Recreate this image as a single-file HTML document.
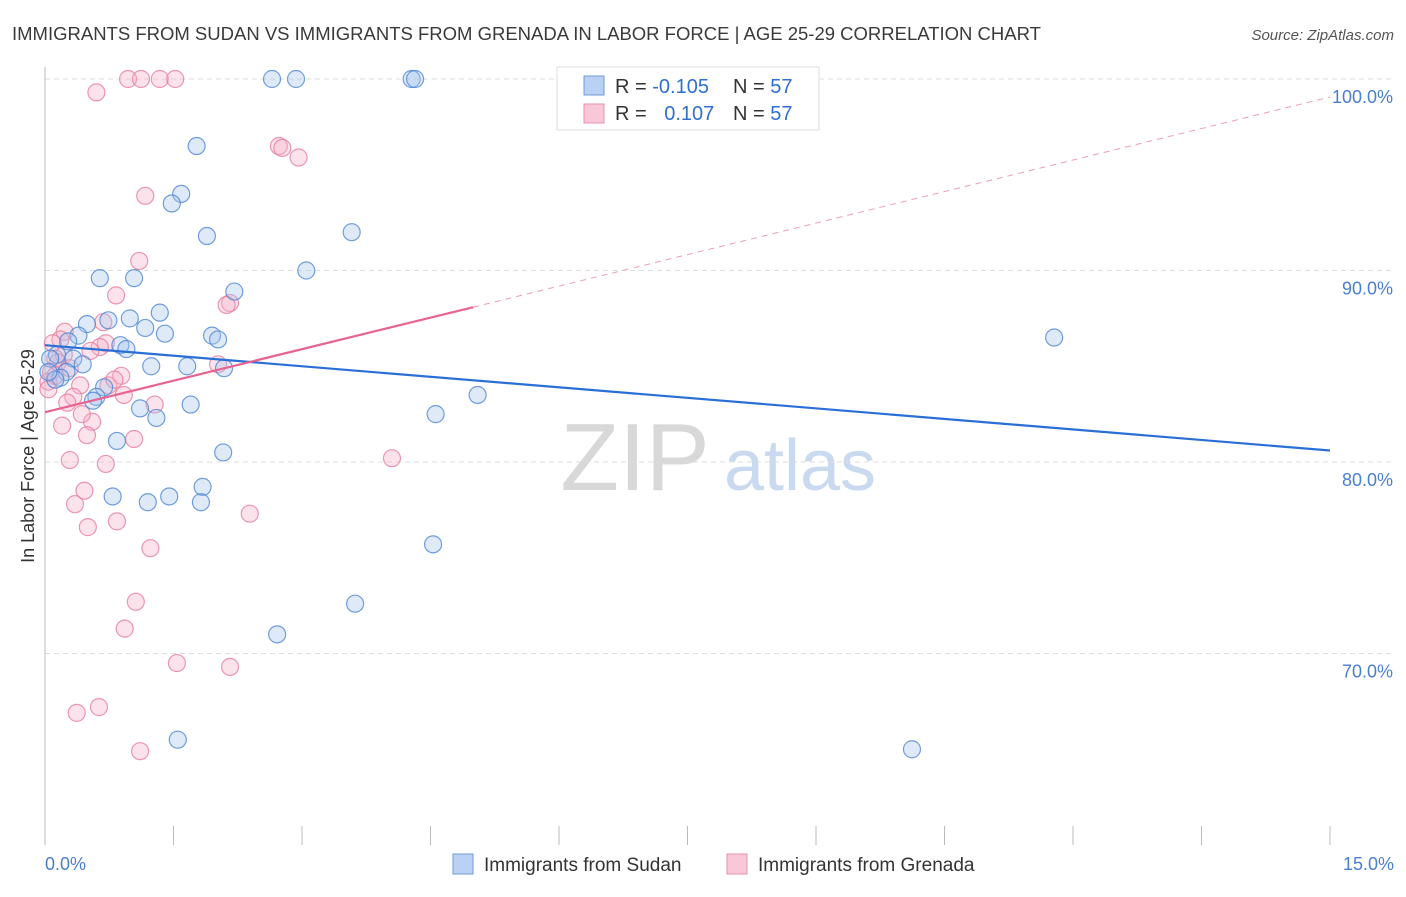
<!DOCTYPE html>
<html><head><meta charset="utf-8"><style>
body{margin:0;background:#fff;font-family:"Liberation Sans",sans-serif}
svg text{font-family:"Liberation Sans",sans-serif}
</style></head><body>
<svg id="chart" width="1406" height="892" viewBox="0 0 1406 892" xmlns="http://www.w3.org/2000/svg">
<text x="12" y="40" font-size="18.5" fill="#3a3a3a">IMMIGRANTS FROM SUDAN VS IMMIGRANTS FROM GRENADA IN LABOR FORCE | AGE 25-29 CORRELATION CHART</text>
<text x="1394" y="40" font-size="15" fill="#555" text-anchor="end" font-style="italic">Source: ZipAtlas.com</text>
<g>
<text x="635" y="490" font-size="96" fill="#d8d8d8" text-anchor="middle" font-family="Liberation Serif">ZIP</text>
<text x="800" y="490" font-size="72" fill="#c9daf0" text-anchor="middle">atlas</text>
</g>
<g id="grid"></g>
<g id="axes"></g>
<g id="marks"></g>
<g id="trends"></g>
<g>
<rect x="557" y="67" width="262" height="63" fill="#fff" stroke="#ddd"/>
<rect x="584" y="76" width="20" height="19" fill="#b9d2f3" stroke="#6f9bd8"/>
<rect x="584" y="104" width="20" height="19" fill="#f9c8d8" stroke="#e58fac"/>
<text x="615" y="93" font-size="20" fill="#333">R = <tspan fill="#2f6fd1">-0.105</tspan></text>
<text x="733" y="93" font-size="20" fill="#333">N = <tspan fill="#2f6fd1">57</tspan></text>
<text x="615" y="120" font-size="20" fill="#333">R = <tspan fill="#2f6fd1" dx="12">0.107</tspan></text>
<text x="733" y="120" font-size="20" fill="#333">N = <tspan fill="#2f6fd1">57</tspan></text>
</g>
<text transform="translate(34,456) rotate(-90)" font-size="18" fill="#333" text-anchor="middle">In Labor Force | Age 25-29</text>
<text x="45" y="870" font-size="18" fill="#4a7fd0">0.0%</text>
<text x="1394" y="870" font-size="18" fill="#4a7fd0" text-anchor="end">15.0%</text>
<g>
<rect x="453" y="854" width="20" height="20" fill="#b9d2f3" stroke="#6f9bd8"/>
<text x="484" y="871" font-size="19" fill="#333">Immigrants from Sudan</text>
<rect x="727" y="854" width="20" height="20" fill="#f9c8d8" stroke="#e58fac"/>
<text x="758" y="871" font-size="19" fill="#333">Immigrants from Grenada</text>
</g>
</svg>
<script>
const yTicks=[100,90,80,70];
const yTickLabels=["100.0%","90.0%","80.0%","70.0%"];
const xTicks=[0,1.5,3,4.5,6,7.5,9,10.5,12,13.5,15];
const sudanX=[2.65,2.93,4.28,4.32,1.77,1.59,1.48,1.89,3.58,3.05,0.64,1.04,2.21,1.34,0.99,0.74,0.49,1.17,1.40,0.39,1.95,2.02,0.88,0.95,0.27,0.14,0.33,0.44,1.24,1.66,2.09,0.25,0.18,0.69,0.60,0.56,1.11,1.70,1.30,4.56,5.05,0.84,2.08,1.84,0.79,1.45,1.20,1.82,4.53,3.62,2.71,1.55,10.12,11.78,0.06,0.12,0.04];
const sudanY=[100,100,100,100,96.5,94.0,93.5,91.8,92.0,90.0,89.6,89.6,88.9,87.8,87.5,87.4,87.2,87.0,86.7,86.6,86.6,86.4,86.1,85.9,86.3,85.6,85.4,85.1,85.0,85.0,84.9,84.7,84.4,83.9,83.4,83.2,82.8,83.0,82.3,82.5,83.5,81.1,80.5,78.7,78.2,78.2,77.9,77.9,75.7,72.6,71.0,65.5,65.0,86.5,85.4,84.3,84.7];
const grenadaX=[0.97,1.12,1.34,1.52,0.60,2.73,2.77,2.96,1.17,1.10,0.83,2.16,2.12,0.23,0.18,0.68,0.71,0.64,0.53,0.09,0.12,0.04,0.07,0.12,2.02,0.41,0.74,0.89,0.92,0.33,0.26,1.28,0.20,0.55,1.04,0.29,0.71,0.46,0.35,0.84,0.50,2.39,4.05,1.23,1.06,0.93,1.54,2.16,0.63,0.37,1.11,0.22,0.15,0.29,0.81,0.04,0.43,0.49];
const grenadaY=[100,100,100,100,99.3,96.5,96.4,95.9,93.9,90.5,88.7,88.3,88.2,86.8,86.4,87.3,86.2,86.0,85.8,86.2,85.4,84.2,84.7,84.5,85.1,84.0,84.0,84.5,83.5,83.4,83.1,83.0,81.9,82.1,81.2,80.1,79.9,78.5,77.8,76.9,76.6,77.3,80.2,75.5,72.7,71.3,69.5,69.3,67.2,66.9,64.9,85.6,85.2,84.9,84.3,83.8,82.5,81.4];
const sudanTrend=[86.1,80.6];
const grenadaTrend=[82.6,99.06];
const grenadaSolidEnd=5.0;

const NS="http://www.w3.org/2000/svg";
const X0=45,X1=1330,Y100=79,PX10=191.5;
function xs(v){return X0+(v/15)*(X1-X0);}
function ys(v){return Y100+(100-v)*PX10/10;}
function mk(t,a,p){const e=document.createElementNS(NS,t);for(const k in a)e.setAttribute(k,a[k]);p.appendChild(e);return e;}
const grid=document.getElementById('grid'),axes=document.getElementById('axes'),marks=document.getElementById('marks'),trends=document.getElementById('trends');
yTicks.forEach((t,i)=>{
  const l=mk('line',{x1:X0,x2:1394,y1:ys(t),y2:ys(t),stroke:'#ddd','stroke-dasharray':'5,4'},grid);
  
  
  const tx=mk('text',{x:1393,y:ys(t)+24,'font-size':18,fill:'#4a7fd0','text-anchor':'end'},axes);
  tx.textContent=yTickLabels[i];
  
  
});
const ya=mk('line',{x1:X0,x2:X0,y1:67,y2:845,stroke:'#bbb'},axes);


xTicks.forEach(t=>{
  const l=mk('line',{x1:xs(t),x2:xs(t),y1:826,y2:845,stroke:'#bbb'},axes);
  
  
});
function dots(X,Y,fill,stroke,name){
  X.forEach((x,i)=>{
    const c=mk('circle',{cx:xs(x),cy:ys(Y[i]),r:8.5,fill:fill,'fill-opacity':0.35,stroke:stroke,'stroke-width':1.2,'stroke-opacity':0.8},marks);
    
    
  });
}
dots(grenadaX,grenadaY,'#f5aec6','#e67e9f','grenada-point');
dots(sudanX,sudanY,'#a3c3ee','#4f86d4','sudan-point');
const bl=mk('line',{x1:xs(0),y1:ys(sudanTrend[0]),x2:xs(15),y2:ys(sudanTrend[1]),stroke:'#2a6fd6','stroke-width':2.2},trends);


const gEnd=grenadaTrend[0]+(grenadaTrend[1]-grenadaTrend[0])*grenadaSolidEnd/15;
const pl=mk('line',{x1:xs(0),y1:ys(grenadaTrend[0]),x2:xs(grenadaSolidEnd),y2:ys(gEnd),stroke:'#e8638f','stroke-width':2.2},trends);


const pd=mk('line',{x1:xs(grenadaSolidEnd),y1:ys(gEnd),x2:xs(15),y2:ys(grenadaTrend[1]),stroke:'#e8a0b8','stroke-width':1,'stroke-dasharray':'6,5'},trends);


</script>
</body></html>
